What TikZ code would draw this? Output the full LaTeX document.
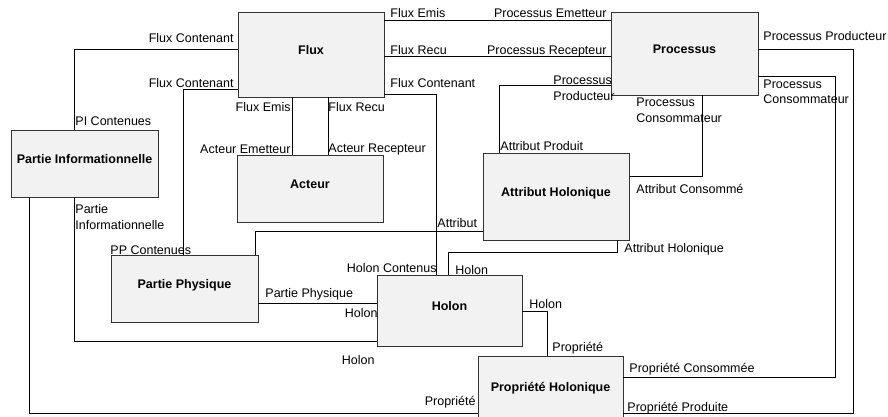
\documentclass[tikz,border=0pt]{standalone}
\usepackage{fontspec}
\setmainfont{Liberation Sans}
\begin{document}
\begin{tikzpicture}[x=1pt, y=-1pt, line width=0.9pt,
	classbox/.style={draw=black!80, fill=black!5, line width=0.8pt, font=\fontsize{12.5}{16}\selectfont\bfseries, inner xsep=2pt, text height=5pt, text depth=5pt},
	role/.style={inner sep=0pt, font=\fontsize{12.5}{16}\selectfont, align=left}]
	\useasboundingbox (0, 0) rectangle (888, 417);
	\clip (0, 0) rectangle (888, 417);

	\node (flux) at (311, 54.5) [classbox, minimum width=146, minimum height=85] {Flux};
	\node (proc) at (684.5, 53.5) [classbox, minimum width=147, minimum height=83] {Processus};
	\node (pinf) at (84.5, 163.5) [classbox, minimum width=147, minimum height=67] {Partie Informationnelle};
	\node (act) at (310, 188.5) [classbox, minimum width=146, minimum height=67] {Acteur};
	\node (attr) at (556, 196.5) [classbox, minimum width=146, minimum height=87] {Attribut Holonique};
	\node (pphy) at (184.5, 288.5) [classbox, minimum width=147, minimum height=67] {Partie Physique};
	\node (holon) at (449.5, 310.5) [classbox, minimum width=145, minimum height=71] {Holon};
	\node (prop) at (550.5, 391.5) [classbox, minimum width=145, minimum height=71] {Propriété Holonique};

	\draw (flux.west |- 0, 49) -| (pinf.north -| 74, 0);
	\draw (flux.west |- 0, 89) -| (pphy.north -| 183, 0);
	\draw (flux.south -| 292, 0) -- (act.north -| 292, 0);
	\draw (flux.south -| 328, 0) -- (act.north -| 328, 0);
	\draw (flux.east |- 0, 20) -- (proc.west |- 0, 20);
	\draw (flux.east |- 0, 56) -- (proc.west |- 0, 56);
	\draw (flux.east |- 0, 94) -| (holon.north -| 436, 0);
	\draw (proc.west |- 0, 85) -| (attr.north -| 499, 0);
	\draw (proc.south -| 702, 0) |- (attr.east |- 0, 176);
	\draw (proc.east |- 0, 49) -| (853, 413) -- (prop.east |- 0, 413);
	\draw (proc.east |- 0, 76) -| (835, 377) -- (prop.east |- 0, 377);
	\draw (holon.north -| 448, 0) |- (617, 252) -- (attr.south -| 617, 0);
	\draw (attr.west |- 0, 231) -| (pphy.north -| 255, 0);
	\draw (pphy.east |- 0, 303) -- (holon.west |- 0, 303);
	\draw (pinf.south -| 74, 0) |- (holon.west |- 0, 341);
	\draw (pinf.south -| 29, 0) |- (prop.west |- 0, 413);
	\draw (holon.east |- 0, 311) -| (prop.north -| 547, 0);

	\node (fc1) at (234, 43) [role, anchor=base east] {Flux Contenant};
	\node (pic) at (75, 125) [role, anchor=base west] {PI Contenues};
	\node (fc2) at (234, 88) [role, anchor=base east] {Flux Contenant};
	\node (ppc) at (110, 254) [role, anchor=base west] {PP Contenues};
	\node (fe1) at (291, 111) [role, anchor=base east] {Flux Emis};
	\node (fr1) at (328, 111) [role, anchor=base west] {Flux Recu};
	\node (ae) at (291, 153) [role, anchor=base east] {Acteur Emetteur};
	\node (ar) at (328, 152) [role, anchor=base west] {Acteur Recepteur};
	\node (fe2) at (390, 18) [role, anchor=base west] {Flux Emis};
	\node (pe) at (607, 18) [role, anchor=base east] {Processus Emetteur};
	\node (fr2) at (390, 55) [role, anchor=base west] {Flux Recu};
	\node (pr) at (607, 55) [role, anchor=base east] {Processus Recepteur};
	\node (fc3) at (390, 88) [role, anchor=base west] {Flux Contenant};
	\node (hc) at (437, 272) [role, anchor=base east] {Holon Contenus};
	\node (pp1) at (553, 101) [role, anchor=base west] {Processus\\Producteur};
	\node (ap) at (500, 150) [role, anchor=base west] {Attribut Produit};
	\node (pc1) at (636, 122) [role, anchor=base west] {Processus\\Consommateur};
	\node (ac) at (636, 193) [role, anchor=base west] {Attribut Consommé};
	\node (pp2) at (763, 41) [role, anchor=base west] {Processus Producteur};
	\node (pc2) at (763, 104) [role, anchor=base west] {Processus\\Consommateur};
	\node (prc) at (629, 372) [role, anchor=base west] {Propriété Consommée};
	\node (prp) at (627, 411) [role, anchor=base west] {Propriété Produite};
	\node (ah) at (624, 252) [role, anchor=base west] {Attribut Holonique};
	\node (h1) at (455, 274) [role, anchor=base west] {Holon};
	\node (at) at (437, 227) [role, anchor=base west] {Attribut};
	\node (pph) at (265, 297) [role, anchor=base west] {Partie Physique};
	\node (h2) at (378, 317) [role, anchor=base east] {Holon};
	\node (pinfo) at (75, 229) [role, anchor=base west] {Partie\\Informationnelle};
	\node (h3) at (375, 364) [role, anchor=base east] {Holon};
	\node (pr1) at (476, 405) [role, anchor=base east] {Propriété};
	\node (h4) at (529, 308) [role, anchor=base west] {Holon};
	\node (pr2) at (552, 351) [role, anchor=base west] {Propriété};
\end{tikzpicture}
\end{document}
